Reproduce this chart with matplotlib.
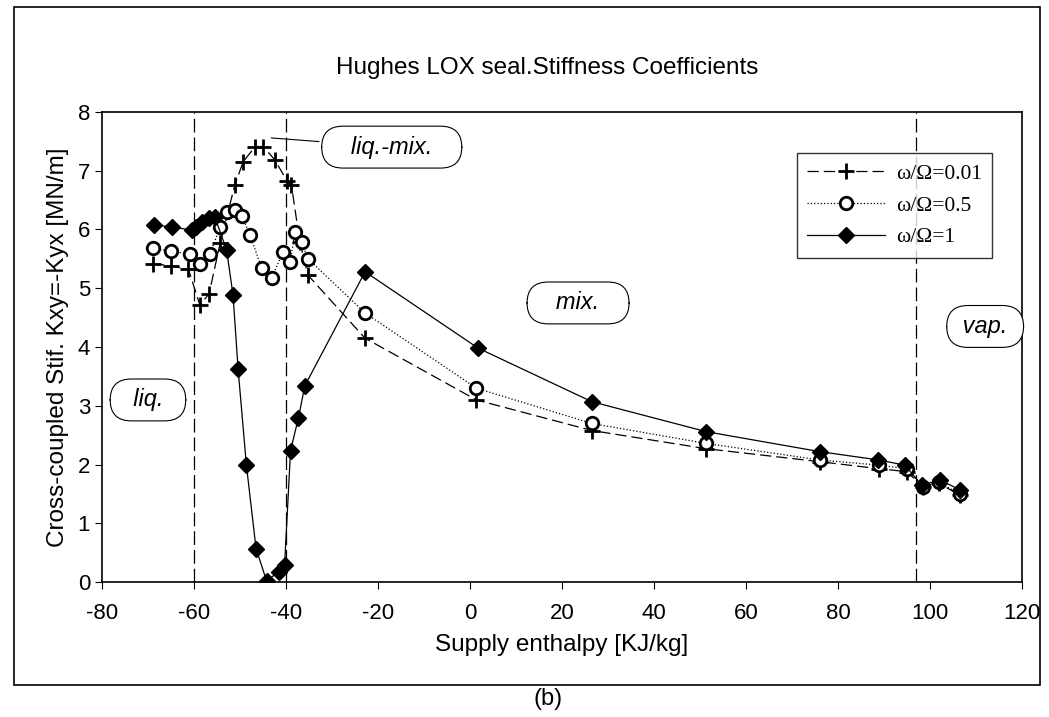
import matplotlib
matplotlib.use("Agg")
import matplotlib.pyplot as plt
from matplotlib.patches import Rectangle

plt.rcParams['font.family'] = ['Liberation Sans', 'DejaVu Sans']
plt.rcParams['axes.unicode_minus'] = False

# omega/Omega = 0.01
h_001 = [-68.9, -64.9, -61.2, -58.7, -56.7, -54.3, -51.1, -49.3, -46.7, -44.9,
         -42.4, -39.8, -38.8, -37.0, -35.2, -22.8, 1.4, 26.5, 51.4, 76.0,
         89.0, 95.0, 98.5, 102.0, 106.5]
k_001 = [5.42, 5.38, 5.32, 4.71, 4.91, 5.77, 6.76, 7.15, 7.41, 7.41,
         7.18, 6.83, 6.75, 5.79, 5.22, 4.15, 3.10, 2.58, 2.27, 2.05,
         1.93, 1.88, 1.62, 1.68, 1.48]

# omega/Omega = 0.5
h_05 = [-68.8, -64.9, -60.9, -58.7, -56.5, -54.3, -52.9, -51.1, -49.6, -47.8,
        -45.3, -43.1, -40.6, -39.1, -38.0, -36.6, -35.2, -22.8, 1.4, 26.5,
        51.4, 76.0, 89.0, 95.0, 98.5, 102.0, 106.5]
k_05 = [5.68, 5.63, 5.58, 5.42, 5.58, 6.05, 6.30, 6.33, 6.23, 5.90,
        5.35, 5.18, 5.62, 5.45, 5.95, 5.78, 5.50, 4.58, 3.30, 2.70,
        2.36, 2.08, 1.99, 1.93, 1.62, 1.70, 1.50]

# omega/Omega = 1
h_1 = [-68.7, -64.7, -60.5, -59.5, -58.2, -56.8, -55.5, -52.9, -51.5, -50.4,
       -48.6, -46.5, -44.2, -41.6, -40.3, -39.0, -37.3, -35.9, -22.8, 1.8,
       26.5, 51.4, 76.1, 88.8, 94.6, 98.2, 102.2, 106.5]
k_1 = [6.08, 6.04, 5.99, 6.05, 6.12, 6.20, 6.22, 5.65, 4.88, 3.62,
       1.99, 0.57, 0.02, 0.18, 0.29, 2.24, 2.79, 3.34, 5.28, 3.98,
       3.07, 2.56, 2.22, 2.08, 1.99, 1.65, 1.74, 1.57]

phase_bounds = [-60, -40, 97]

fig = plt.figure(figsize=(10.49, 7.17), dpi=100)
ax = fig.add_axes([0.0972, 0.188, 0.877, 0.656])

for xb in phase_bounds:
    ax.axvline(xb, color='black', lw=0.9, dashes=(11, 4))

ax.plot(h_001, k_001, color='black', lw=0.9, dashes=(9, 4), marker='+',
        ms=12, mew=2, label='ω/Ω=0.01')
ax.plot(h_05, k_05, color='black', lw=0.9, ls=':', marker='o', ms=9,
        mew=2, mfc='white', label='ω/Ω=0.5')
ax.plot(h_1, k_1, color='black', lw=0.9, ls='-', marker='D', ms=8,
        label='ω/Ω=1')

ax.set_xlim(-80, 120)
ax.set_ylim(0, 8)
ax.set_xticks(range(-80, 121, 20))
ax.set_yticks(range(0, 9))
ax.tick_params(direction='out', length=5, labelsize=16)
ax.tick_params(axis='x', pad=10)
for s in ax.spines.values():
    s.set_linewidth(1.2)

ax.set_xlabel('Supply enthalpy [KJ/kg]', fontsize=17.5, labelpad=7)
ax.set_ylabel('Cross-coupled Stif. Kxy=-Kyx [MN/m]', fontsize=17.5, labelpad=6)
fig.text(0.522, 0.905, 'Hughes LOX seal.Stiffness Coefficients',
         ha='center', va='center', fontsize=17.5)
fig.text(0.522, 0.025, '(b)', ha='center', va='center', fontsize=17)

leg = ax.legend(loc='upper right', bbox_to_anchor=(0.968, 0.913),
                borderaxespad=0,
                prop={'family': 'Liberation Serif', 'size': 15.5},
                frameon=True, fancybox=False, edgecolor='black',
                handlelength=3.6, numpoints=1, borderpad=0.5,
                labelspacing=0.55, handletextpad=0.5)
leg.get_frame().set_linewidth(1.0)

box = dict(boxstyle='round,pad=0.4,rounding_size=0.9', fc='white',
           ec='black', lw=0.8)
ax.annotate('   liq.-mix.   ', xy=(-43.8, 7.56), xytext=(-17, 7.4),
            fontsize=17, style='italic', ha='center', va='center', bbox=box,
            arrowprops=dict(arrowstyle='-', lw=0.8, color='black'))
ax.text(23.5, 4.75, '   mix.   ', fontsize=17, style='italic',
        ha='center', va='center', bbox=box)
ax.text(112, 4.35, ' vap. ', fontsize=17, style='italic',
        ha='center', va='center', bbox=box)
ax.text(-70, 3.1, '  liq.  ', fontsize=17, style='italic',
        ha='center', va='center', bbox=box)

fig.patches.append(Rectangle((0.013, 0.045), 0.978, 0.945,
                             transform=fig.transFigure, fill=False,
                             ec='black', lw=1.2))

fig.savefig('out.png', dpi=100)
